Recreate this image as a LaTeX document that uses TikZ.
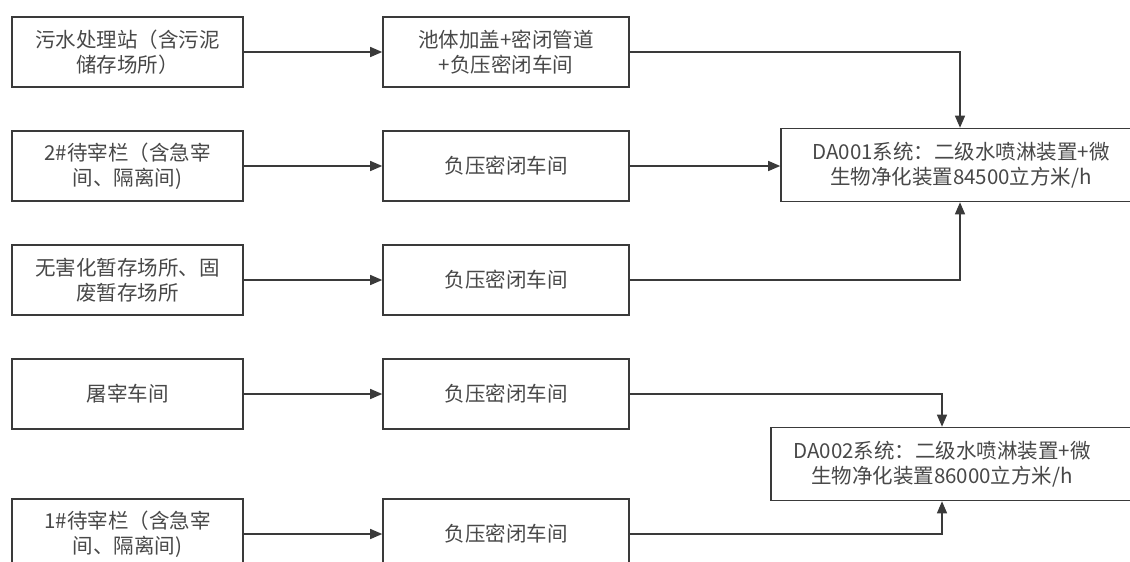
\documentclass[tikz,border=0pt]{standalone}
\usepackage{fontspec}
\setmainfont{Noto Sans CJK SC}
\usepackage{xcolor}
\usepackage{tikz}
\usetikzlibrary{arrows.meta}

\definecolor{linegray}{HTML}{3A3A3A}
\definecolor{textgray}{HTML}{484848}

\tikzset{
  srcbox/.style={draw=linegray, line width=1.6pt, minimum width=231pt, minimum height=70pt,
    align=center, text=textgray, inner sep=0pt, font=\fontsize{20.5}{25}\selectfont},
  ctlbox/.style={srcbox, minimum width=246pt},
  sysbox/.style={srcbox, minimum height=73pt},
  link/.style={linegray, line width=1.3pt, -{Triangle[length=12pt,width=10pt]}}
}

\begin{document}
\begin{tikzpicture}[x=1pt, y=-1pt]
\useasboundingbox[fill=white] (0,0) rectangle (1130,562);
% sources
\node[srcbox] (s1) at (127.5,52) {污水处理站（含污泥\\储存场所）};
\node[srcbox] (s2) at (127.5,166) {2\#待宰栏（含急宰\\间、隔离间)};
\node[srcbox] (s3) at (127.5,280) {无害化暂存场所、固\\废暂存场所};
\node[srcbox] (s4) at (127.5,394) {屠宰车间};
\node[srcbox] (s5) at (127.5,534) {1\#待宰栏（含急宰\\间、隔离间)};
% collection
\node[ctlbox] (m1) at (506,52) {池体加盖+密闭管道\\+负压密闭车间};
\node[ctlbox] (m2) at (506,166) {负压密闭车间};
\node[ctlbox] (m3) at (506,280) {负压密闭车间};
\node[ctlbox] (m4) at (506,394) {负压密闭车间};
\node[ctlbox] (m5) at (506,534) {负压密闭车间};
% treatment systems
\node[sysbox, minimum width=360pt, text width=340pt] (d1) at (961,165)
  {DA001系统：二级水喷淋装置+微\\生物净化装置84500立方米/h};
\node[sysbox, minimum width=380pt, text width=360pt] (d2) at (961,464)
  {\hspace*{-38pt}DA002系统：二级水喷淋装置+微\\\hspace*{-38pt}生物净化装置86000立方米/h};
\coordinate (tap1) at (960,0);
\coordinate (tap2) at (942,0);

\foreach \i in {1,...,5}
  \draw[link] (s\i) -- (m\i);
\draw[link] (m1) -| (tap1 |- d1.north);
\draw[link] (m2) -- (m2 -| d1.west);
\draw[link] (m3) -| (tap1 |- d1.south);
\draw[link] (m4) -| (tap2 |- d2.north);
\draw[link] (m5) -| (tap2 |- d2.south);
\end{tikzpicture}
\end{document}
